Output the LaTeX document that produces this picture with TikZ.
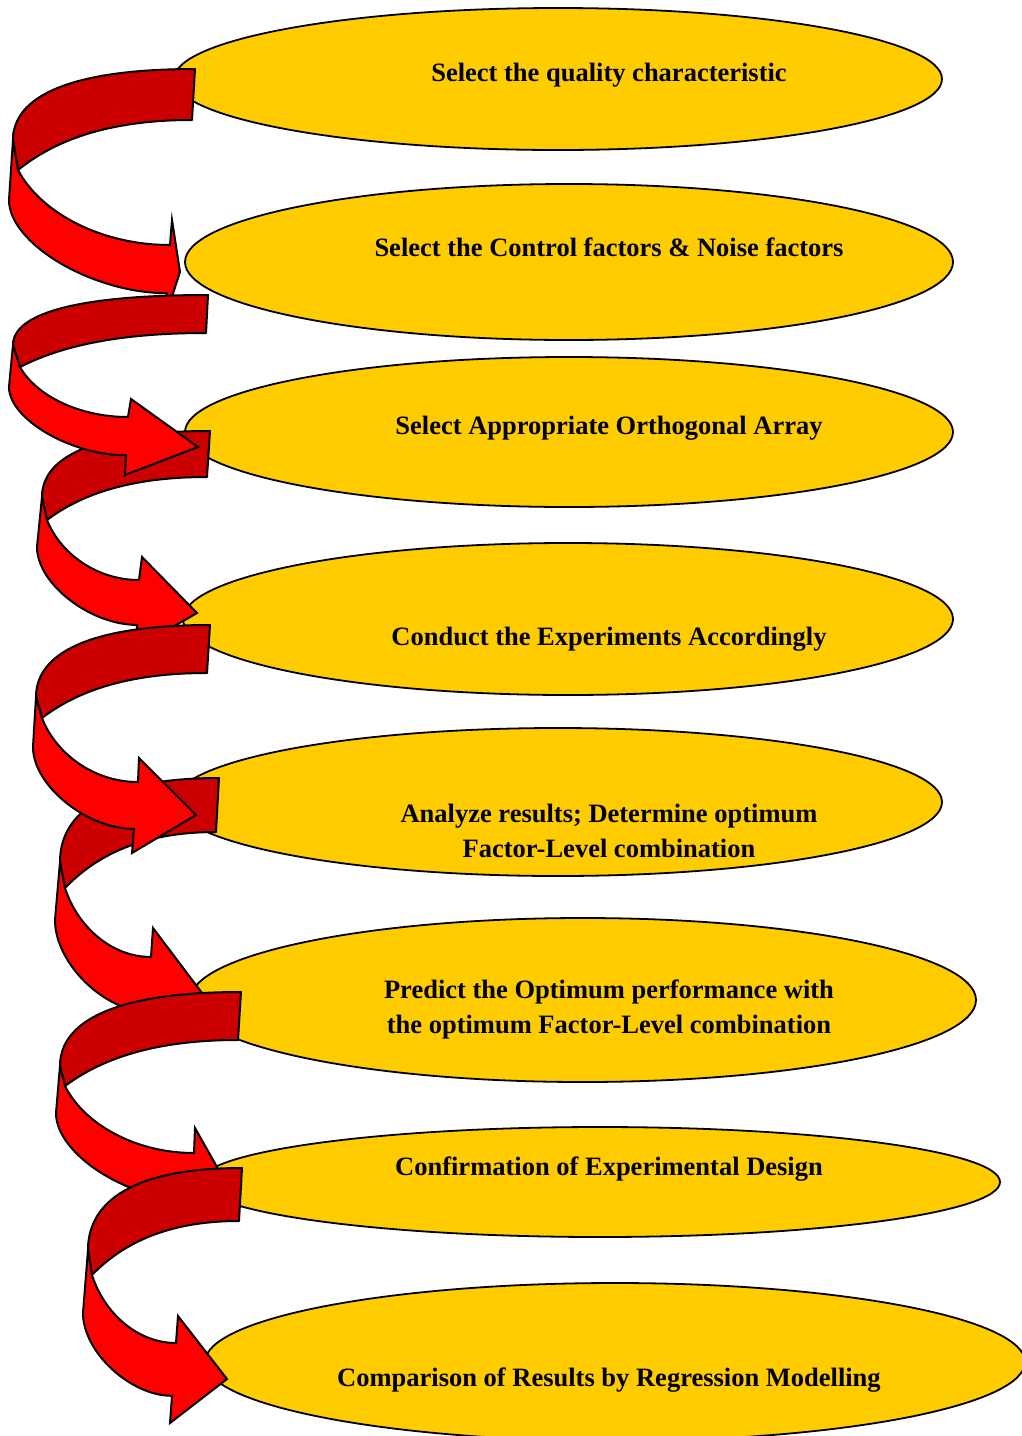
\documentclass[tikz,border=0pt]{standalone}
\usepackage{fontspec}
\setmainfont{Liberation Serif}
\usetikzlibrary{shapes.geometric,calc}

\definecolor{stagefill}{RGB}{255,204,0}
\definecolor{backred}{RGB}{204,0,0}
\definecolor{frontred}{RGB}{255,0,0}

\tikzset{
  stage/.style={ellipse, draw=black, line width=1.8pt, fill=stagefill, inner sep=0pt},
  stagetext/.style={font=\bfseries\fontsize{26.5}{35}\selectfont, align=center, anchor=base},
  backband/.style={draw=black, line width=2pt, line join=round, fill=backred},
  frontband/.style={draw=black, line width=2pt, fill=frontred},
}

% twisted curved arrow: T,B right end of the back band, P,Q its left end,
% R lower end of the seam, U,I,X,W upper barb, inner base, tip, lower barb
\newcommand{\ribbon}[9]{%
  \coordinate (T) at #1; \coordinate (B) at #2; \coordinate (P) at #3;
  \coordinate (Q) at #4; \coordinate (R) at #5; \coordinate (U) at #6;
  \coordinate (I) at #7; \coordinate (X) at #8; \coordinate (W) at #9;
  \coordinate (O) at ($(I)!0.66!(W)$);
  \draw[backband] (T) .. controls ($(T)!0.7!(P|-T)$) and ($(P)!0.6!(P|-T)$) .. (P)
    -- (Q) .. controls ($(Q)!0.45!(Q|-B)!0.2!(B)$) and ($(B)!0.5!(Q|-B)$) .. (B) -- cycle;
  \draw[frontband] (P) -- (R) .. controls ($(R)!0.47!(R|-O)$) and ($(O)!0.47!(R|-O)$) .. (O)
    -- (W) -- (X) -- (U) -- (I) .. controls ($(I)!0.45!(Q|-I)$) and ($(Q)!0.5!(Q|-I)!0.15!(I)$) .. (Q) -- cycle;
}

\begin{document}
\begin{tikzpicture}[x=1pt, y=-1pt]
  \useasboundingbox (0,0) rectangle (1022,1436);

  % stages
  \foreach \n/\cx/\cy/\w/\h in {1/558/79/768/142, 2/569/262/768/156, 3/569/432/768/150,
      4/568/619/770/152, 5/558/802/768/148, 6/583/1000/786/164, 7/600/1182/800/110,
      8/615/1362/820/158} {
    \node[stage, minimum width=\w pt, minimum height=\h pt] (e\n) at (\cx,\cy) {};
  }

  % two-line texts sit on the baseline of their last line
  \node[stagetext] (t1) at (609,81) {Select the quality characteristic};
  \node[stagetext] (t2) at (609,256) {Select the Control factors \& Noise factors};
  \node[stagetext] (t3) at (609,434) {Select Appropriate Orthogonal Array};
  \node[stagetext] (t4) at (609,645) {Conduct the Experiments Accordingly};
  \node[stagetext] (t5) at (609,857) {Analyze results; Determine optimum\\Factor-Level combination};
  \node[stagetext] (t6) at (609,1033) {Predict the Optimum performance with\\the optimum Factor-Level combination};
  \node[stagetext] (t7) at (609,1175) {Confirmation of Experimental Design};
  \node[stagetext] (t8) at (609,1386) {Comparison of Results by Regression Modelling};

  % arrows between the stages
  \ribbon{(195,69)}{(192,120)}{(13,140)}{(18,170)}{(9,200)}{(172,220)}{(170,245)}{(180,272)}{(165,318)}
  \ribbon{(210,431)}{(207,477)}{(42,497)}{(47,520)}{(37,547)}{(142,557)}{(139,580)}{(197,613)}{(136,648)}
  \ribbon{(208,295)}{(206,333)}{(13,345)}{(20,367)}{(9,387)}{(131,399)}{(128,417)}{(198,447)}{(125,475)}
  \ribbon{(219,778)}{(216,832)}{(60,862)}{(65,888)}{(55,920)}{(153,928)}{(151,957)}{(205,997)}{(147,1040)}
  \ribbon{(210,625)}{(207,673)}{(36,697)}{(42,718)}{(33,747)}{(139,758)}{(138,782)}{(196,815)}{(132,853)}
  \ribbon{(241,992)}{(238,1040)}{(60,1066)}{(65,1086)}{(56,1113)}{(195,1128)}{(194,1153)}{(230,1190)}{(188,1224)}
  \ribbon{(242,1168)}{(239,1221)}{(88,1250)}{(92,1275)}{(83,1313)}{(178,1316)}{(176,1343)}{(227,1379)}{(170,1423)}
\end{tikzpicture}
\end{document}
